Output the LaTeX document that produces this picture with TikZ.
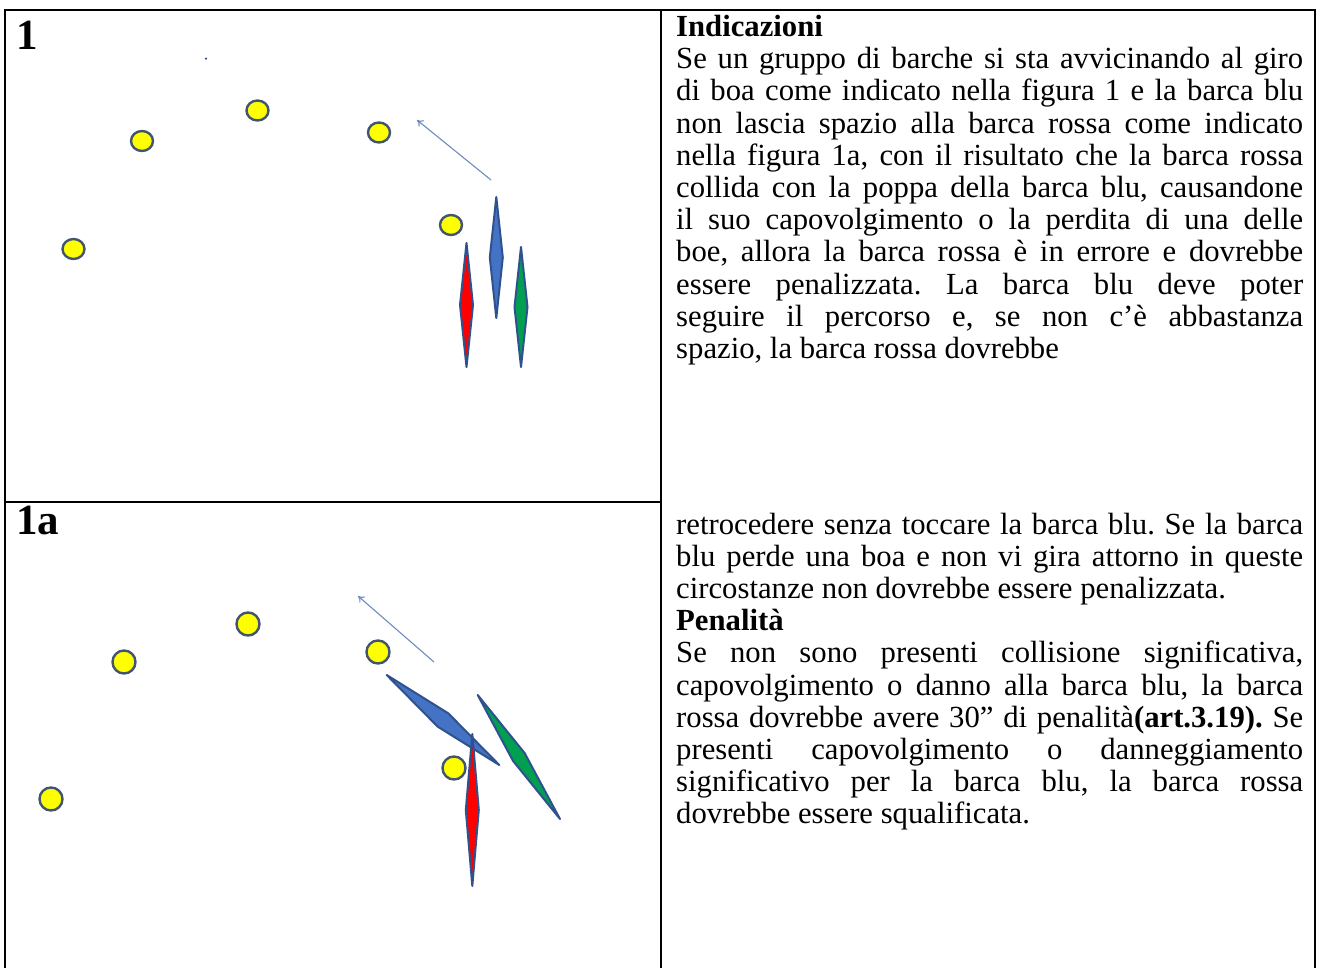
\documentclass[tikz,border=0pt]{standalone}
\usepackage{fontspec}
\setmainfont{Liberation Serif}
\usetikzlibrary{calc,arrows.meta}
\definecolor{boatline}{RGB}{47,82,143}
\definecolor{boatblue}{RGB}{68,114,196}
\definecolor{boatred}{RGB}{255,0,0}
\definecolor{boatgreen}{RGB}{0,160,80}
\definecolor{buoyline}{RGB}{65,85,110}
\definecolor{buoyfill}{RGB}{255,255,0}
\definecolor{arrowcol}{RGB}{110,140,190}
\newcommand\myboat[5]{%
  \coordinate (#1a) at #2;
  \coordinate (#1b) at #3;
  \filldraw[boatstyle, fill=#5] (#1a) -- ($(#1a)!0.5!(#1b)!#4!90:(#1b)$) -- (#1b) -- ($(#1a)!0.5!(#1b)!#4!-90:(#1b)$) -- cycle;}
\begin{document}
\begin{tikzpicture}[x=1pt,y=-1pt,
  buoy/.style={draw=buoyline, fill=buoyfill, line width=2.4pt},
  boatstyle/.style={draw=boatline, line width=2pt, line join=round},
  gridline/.style={line width=2pt, line cap=rect},
  arrowline/.style={draw=arrowcol, line width=1.1pt, -{To[length=6pt,width=8pt]}},
  celltext/.style={anchor=base west, inner sep=0pt},
  labeltext/.style={anchor=base west, inner sep=0pt, font=\fontsize{43}{48}\selectfont\bfseries}]
\useasboundingbox (0,0) rectangle (1317,968);
\fill[white] (0,0) rectangle (1317,968);
% table
\coordinate (tl) at (5,10);
\coordinate (tm) at (661,10);
\coordinate (tr) at (1315,10);
\coordinate (bl) at (5,970);
\coordinate (bm) at (661,970);
\coordinate (br) at (1315,970);
\coordinate (ml) at (5,502);
\coordinate (mm) at (661,502);
\draw[gridline] (tl) -- (tr);
\draw[gridline] (tl) -- (bl);
\draw[gridline] (tm) -- (bm);
\draw[gridline] (tr) -- (br);
\draw[gridline] (ml) -- (mm);
% labels
\node[labeltext] (labA) at (16,49.3) {1};
\node[labeltext] (labB) at (16,534) {1a};
% figure 1
\fill[boatline] (206,58.7) circle[radius=1.2pt];
\draw[buoy] (142,141) circle[x radius=11pt, y radius=10pt];
\draw[buoy] (257.5,110.5) circle[x radius=11pt, y radius=10pt];
\draw[buoy] (379,132.5) circle[x radius=11pt, y radius=10pt];
\draw[buoy] (73.5,249) circle[x radius=11pt, y radius=10pt];
\draw[buoy] (451,225) circle[x radius=11pt, y radius=10pt];
\coordinate (arAs) at (491,180);
\coordinate (arAe) at (417,120);
\draw[arrowline] (arAs) -- (arAe);
\myboat{blueA}{(496.3,197)}{(496.3,318)}{6.5pt}{boatblue}
\myboat{redA}{(466.5,243)}{(466.5,367)}{6.5pt}{boatred}
\myboat{greenA}{(521,247)}{(521,367)}{6.5pt}{boatgreen}
% figure 1a
\draw[buoy] (124,662) circle[radius=11.5pt];
\draw[buoy] (248,624) circle[radius=11.5pt];
\draw[buoy] (378,652) circle[radius=11.5pt];
\draw[buoy] (51,799) circle[radius=11.5pt];
\draw[buoy] (454,768) circle[radius=11.5pt];
\coordinate (arBs) at (434,662);
\coordinate (arBe) at (358,596);
\draw[arrowline] (arBs) -- (arBe);
\myboat{blueB}{(386.7,675)}{(499.3,765)}{8.5pt}{boatblue}
\myboat{greenB}{(477.7,695)}{(560,819)}{7pt}{boatgreen}
\myboat{redB}{(472.3,734)}{(472.3,886)}{6.5pt}{boatred}
% text
\node[celltext] (txtA) at (676,36.5) {\parbox[t]{627pt}{\fontsize{30.7}{32.2}\selectfont
\setlength\parindent{0pt}\tolerance=10000 \hbadness=10000 \frenchspacing
\textbf{Indicazioni}\par
Se un gruppo di barche si sta avvicinando al giro\linebreak
di boa come indicato nella figura 1 e la barca blu\linebreak
non lascia spazio alla barca rossa come indicato\linebreak
nella figura 1a, con il risultato che la barca rossa\linebreak
collida con la poppa della barca blu, causandone\linebreak
il suo capovolgimento o la perdita di una delle\linebreak
boe, allora la barca rossa è in errore e dovrebbe\linebreak
essere penalizzata. La barca blu deve poter\linebreak
seguire il percorso e, se non c’è abbastanza\linebreak
spazio, la barca rossa dovrebbe\par}};
\node[celltext] (txtB) at (676,534) {\parbox[t]{627pt}{\fontsize{30.7}{32.2}\selectfont
\setlength\parindent{0pt}\tolerance=10000 \hbadness=10000 \frenchspacing
retrocedere senza toccare la barca blu. Se la barca\linebreak
blu perde una boa e non vi gira attorno in queste\linebreak
circostanze non dovrebbe essere penalizzata.\par
\textbf{Penalità}\par
Se non sono presenti collisione significativa,\linebreak
capovolgimento o danno alla barca blu, la barca\linebreak
rossa dovrebbe avere 30” di penalità\textbf{(art.3.19).} Se\linebreak
presenti capovolgimento o danneggiamento\linebreak
significativo per la barca blu, la barca rossa\linebreak
dovrebbe essere squalificata.\par}};
\end{tikzpicture}
\end{document}
